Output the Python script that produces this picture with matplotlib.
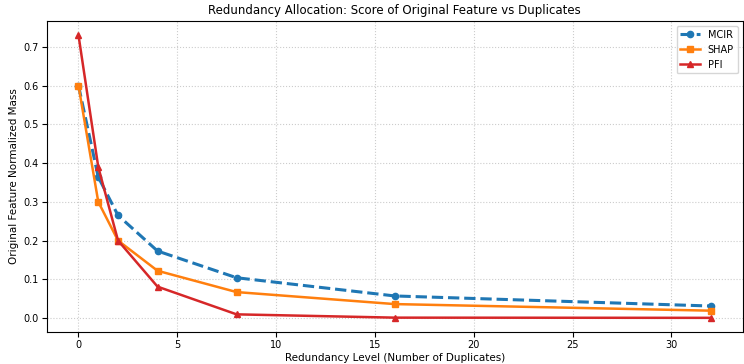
import numpy as np
import matplotlib
matplotlib.use("Agg")
from matplotlib import pyplot as plt

# Redundancy levels (number of duplicates)
levels = [0, 1, 2, 4, 8, 16, 32]

# Normalized mass of the original feature
mcir = [0.600, 0.364, 0.265, 0.173, 0.104, 0.057, 0.031]
shap = [0.600, 0.300, 0.200, 0.122, 0.067, 0.036, 0.019]
pfi = [0.730, 0.390, 0.200, 0.081, 0.0095, 0.001, 0.0005]

fig, ax = plt.subplots(figsize=(7.44, 3.64), dpi=100)

ax.plot(levels, mcir, color='tab:blue', linestyle='--', marker='o', linewidth=2.2, markersize=4.5, label='MCIR')
ax.plot(levels, shap, color='tab:orange', linestyle='-', marker='s', linewidth=1.8, markersize=4.5, label='SHAP')
ax.plot(levels, pfi, color='tab:red', linestyle='-', marker='^', linewidth=1.8, markersize=4.5, label='PFI')

ax.set_title("Redundancy Allocation: Score of Original Feature vs Duplicates", fontsize=8.5, pad=5)
ax.set_xlabel("Redundancy Level (Number of Duplicates)", fontsize=7.5, labelpad=2)
ax.set_ylabel("Original Feature Normalized Mass", fontsize=7.5, labelpad=3)
ax.tick_params(labelsize=7, pad=2.5)
ax.grid(True, linestyle=':', color='#cccccc', linewidth=0.8)
ax.legend(loc='upper right', fontsize=7, framealpha=0.8)

fig.subplots_adjust(left=0.063, right=0.998, top=0.942, bottom=0.088)
fig.savefig("out.png", dpi=100)
